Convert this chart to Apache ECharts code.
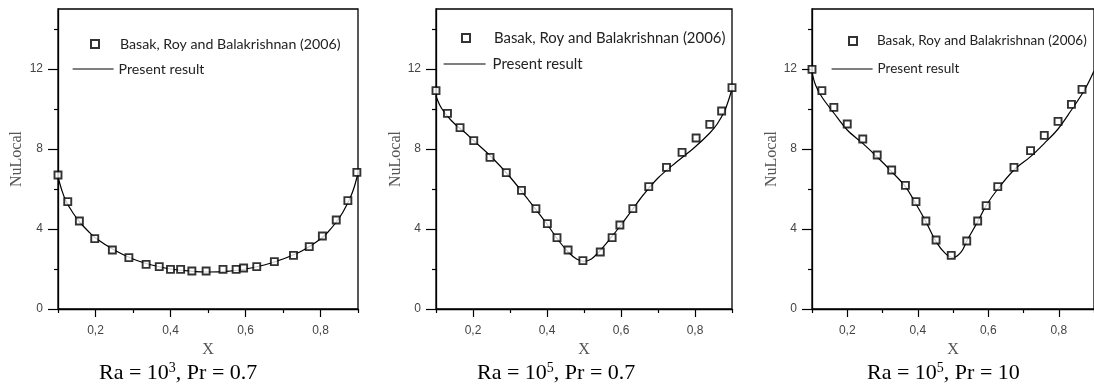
<!DOCTYPE html>
<html><head><meta charset="utf-8">
<script src="https://cdn.jsdelivr.net/npm/echarts@6/dist/echarts.min.js"></script>
<style>html,body{margin:0;padding:0;background:#fff}#c{width:1094px;height:385px}</style>
</head><body><div id="c"></div>
<script>
// ---- data ----
const refName = 'Basak, Roy and Balakrishnan (2006)';
const lineName = 'Present result';
const xMajorTicks = [0.2, 0.4, 0.6, 0.8];
const xMinorTicks = [0.1, 0.3, 0.5, 0.7, 0.9];
const yMajorTicks = [0, 4, 8, 12];
const yMinorTicks = [2, 6, 10, 14];
const subtitles = [['Ra = 10', '3', ', Pr = 0.7'], ['Ra = 10', '5', ', Pr = 0.7'], ['Ra = 10', '5', ', Pr = 10']];

const p1RefX = [0.100,0.126,0.157,0.198,0.245,0.289,0.335,0.370,0.400,0.427,0.457,0.495,0.540,0.575,0.595,0.630,0.677,0.728,0.770,0.805,0.842,0.873,0.897];
const p1RefY = [6.70,5.37,4.40,3.52,2.95,2.57,2.23,2.12,1.98,1.98,1.90,1.90,1.98,1.98,2.05,2.12,2.37,2.68,3.12,3.65,4.45,5.42,6.83];
const p1LineX = [0.100,0.110,0.120,0.140,0.160,0.180,0.200,0.250,0.300,0.350,0.400,0.450,0.500,0.550,0.600,0.650,0.700,0.750,0.800,0.820,0.840,0.860,0.880,0.890,0.900];
const p1LineY = [6.60,5.95,5.45,4.80,4.30,3.90,3.55,2.95,2.50,2.20,2.00,1.90,1.85,1.88,2.00,2.20,2.50,2.90,3.50,3.85,4.30,4.85,5.60,6.10,6.80];

const p2RefX = [0.100,0.131,0.165,0.202,0.246,0.290,0.331,0.370,0.401,0.427,0.457,0.497,0.544,0.576,0.597,0.632,0.675,0.723,0.765,0.803,0.840,0.872,0.900];
const p2RefY = [10.92,9.78,9.07,8.42,7.58,6.82,5.93,5.02,4.27,3.57,2.95,2.42,2.85,3.57,4.20,5.02,6.12,7.08,7.83,8.55,9.23,9.90,11.07];
const p2LineX = [0.100,0.110,0.120,0.140,0.160,0.180,0.200,0.250,0.300,0.350,0.400,0.430,0.460,0.480,0.500,0.520,0.540,0.570,0.600,0.630,0.660,0.700,0.750,0.800,0.840,0.860,0.880,0.890,0.900];
const p2LineY = [10.65,10.20,9.90,9.45,9.10,8.80,8.45,7.60,6.60,5.45,4.25,3.45,2.80,2.50,2.38,2.50,2.85,3.50,4.20,4.95,5.70,6.55,7.35,8.10,8.80,9.25,9.90,10.40,11.00];

const p3RefX = [0.100,0.128,0.162,0.200,0.244,0.285,0.326,0.365,0.395,0.423,0.452,0.495,0.539,0.570,0.594,0.627,0.673,0.720,0.759,0.798,0.836,0.866];
const p3RefY = [11.98,10.92,10.08,9.25,8.50,7.70,6.95,6.18,5.37,4.40,3.45,2.68,3.40,4.40,5.17,6.12,7.08,7.92,8.68,9.38,10.23,10.98];
const p3LineX = [0.100,0.110,0.128,0.162,0.200,0.244,0.285,0.326,0.365,0.395,0.423,0.452,0.478,0.500,0.524,0.539,0.570,0.594,0.627,0.673,0.720,0.759,0.798,0.836,0.873,0.900];
const p3LineY = [11.85,11.20,10.60,9.80,8.95,8.28,7.60,6.87,6.12,5.25,4.37,3.37,2.78,2.57,2.87,3.40,4.37,5.17,6.00,6.95,7.62,8.28,9.00,9.95,10.95,11.90];

const panels = [
  {refX: p1RefX, refY: p1RefY, lineX: p1LineX, lineY: p1LineY},
  {refX: p2RefX, refY: p2RefY, lineX: p2LineX, lineY: p2LineY},
  {refX: p3RefX, refY: p3RefY, lineX: p3LineX, lineY: p3LineY}
];

// ---- layout ----
const grids = [
  {left: 58, right: 736, top: 9, bottom: 76, nameGap: 33, title: 94, legFont: 14.2,
   legA: {left: 90, top: 36, pad: 16}, legB: {left: 72, top: 61, w: 41, pad: 0}},
  {left: 436, right: 362, top: 9, bottom: 76, nameGap: 31, title: 472, legFont: 14.9,
   legA: {left: 461, top: 30, pad: 19}, legB: {left: 443, top: 56, w: 42, pad: 2}},
  {left: 812, right: -9, top: 9, bottom: 76, nameGap: 31, title: 862, legFont: 13.5,
   legA: {left: 848, top: 33, pad: 15}, legB: {left: 831, top: 61, w: 41, pad: 0}}
];

const serif = "'Liberation Serif', 'Times New Roman', serif";
const sans = "'Liberation Sans', Arial, sans-serif";
const legendFont = "Lato, 'Liberation Sans', sans-serif";
const fmt = v => String(v).replace('.', ',');

const option = {
  animation: false,
  backgroundColor: '#fff',
  title: [], grid: [], xAxis: [], yAxis: [], legend: [], series: []
};

grids.forEach((g, i) => {
  option.grid.push({left: g.left, right: g.right, top: g.top, bottom: g.bottom,
    show: true, borderColor: '#000', borderWidth: 1.3, backgroundColor: 'transparent'});
  option.xAxis.push({
    type: 'value', gridIndex: i, min: 0.1, max: 0.9, position: 'bottom',
    name: 'X', nameLocation: 'middle', nameGap: 31,
    nameTextStyle: {fontFamily: serif, fontSize: 16, color: '#555'},
    axisLine: {onZero: false, lineStyle: {color: '#000', width: 1.3}},
    axisTick: {customValues: xMajorTicks, length: 8, lineStyle: {color: '#000', width: 1.2}},
    axisLabel: {customValues: xMajorTicks, formatter: fmt, margin: 16,
      fontFamily: sans, fontSize: 12, color: '#444'},
    splitLine: {show: false}
  });
  option.xAxis.push({
    type: 'value', gridIndex: i, min: 0.1, max: 0.9, position: 'bottom',
    axisLine: {show: false},
    axisTick: {customValues: xMinorTicks, length: 4, lineStyle: {color: '#000', width: 1.2}},
    axisLabel: {show: false}, splitLine: {show: false}
  });
  option.yAxis.push({
    type: 'value', gridIndex: i, min: 0, max: 15, position: 'left',
    name: 'NuLocal', nameLocation: 'middle', nameGap: g.nameGap,
    nameTextStyle: {fontFamily: serif, fontSize: 16, color: '#555'},
    axisLine: {show: true, lineStyle: {color: '#000', width: 1.3}},
    axisTick: {show: true, customValues: yMajorTicks, length: 10, lineStyle: {color: '#000', width: 1.2}},
    axisLabel: {customValues: yMajorTicks, margin: 15, fontFamily: sans, fontSize: 12, color: '#444'},
    splitLine: {show: false}
  });
  option.yAxis.push({
    type: 'value', gridIndex: i, min: 0, max: 15, position: 'left',
    axisLine: {show: false},
    axisTick: {show: true, customValues: yMinorTicks, length: 4, lineStyle: {color: '#000', width: 1.2}},
    axisLabel: {show: false}, splitLine: {show: false}
  });
  const s = subtitles[i];
  option.title.push({
    text: '{a|' + s[0] + '}{b|' + s[1] + '}{a|' + s[2] + '}',
    left: g.title, top: 356,
    textStyle: {fontWeight: 'normal', rich: {
      a: {fontFamily: serif, fontSize: 22, fontWeight: 'normal', color: '#000', lineHeight: 25},
      b: {fontFamily: serif, fontSize: 14, fontWeight: 'normal', color: '#000', lineHeight: 14, verticalAlign: 'top'}
    }}
  });
  option.legend.push({
    data: [{name: refName, icon: 'rect'}], orient: 'vertical', left: g.legA.left, top: g.legA.top,
    itemWidth: 8, itemHeight: 8, selectedMode: false, padding: 0,
    itemStyle: {borderWidth: 2, borderColor: '#000', color: '#fff'},
    textStyle: {fontFamily: legendFont, fontSize: g.legFont, color: '#222', lineHeight: 16, padding: [0, 0, 0, g.legA.pad]}
  });
  option.legend.push({
    data: [lineName], orient: 'vertical', left: g.legB.left, top: g.legB.top,
    itemWidth: g.legB.w, itemHeight: 1, selectedMode: false, padding: 0,
    itemStyle: {color: 'rgba(0,0,0,0)', borderWidth: 0, opacity: 0},
    lineStyle: {color: '#000', width: 1.2},
    textStyle: {fontFamily: legendFont, fontSize: g.legFont, color: '#222', lineHeight: 16, padding: [0, 0, 0, g.legB.pad]}
  });
  const p = panels[i];
  option.series.push({
    name: lineName, type: 'line', xAxisIndex: 2 * i, yAxisIndex: 2 * i,
    data: p.lineX.map((x, k) => [x, p.lineY[k]]),
    smooth: 0.35, symbol: 'none', clip: false,
    lineStyle: {color: '#000', width: 1.2}, itemStyle: {color: '#000'}, z: 2
  });
  option.series.push({
    name: refName, type: 'scatter', xAxisIndex: 2 * i, yAxisIndex: 2 * i,
    data: p.refX.map((x, k) => [x, p.refY[k]]),
    symbol: 'rect', symbolSize: 7, clip: false,
    itemStyle: {color: '#fff', borderColor: '#000', borderWidth: 1.9}, z: 3
  });
});

const chart = echarts.init(document.getElementById('c'), null, {renderer: 'canvas'});
chart.setOption(option);
</script>
</body></html>
